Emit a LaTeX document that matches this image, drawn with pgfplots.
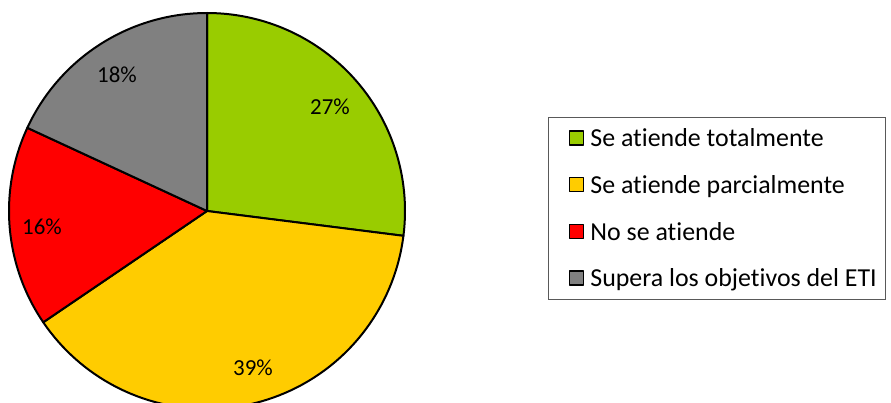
\documentclass[border=0pt]{standalone}
\usepackage{pgfplots}
\pgfplotsset{compat=1.18}
\usepackage{pgfplotstable}
\usepackage{fontspec}
\setmainfont{Carlito}[Ligatures=NoCommon]

\definecolor{cGreen}{HTML}{99CC00}
\definecolor{cYellow}{HTML}{FFCC00}
\definecolor{cRed}{HTML}{FF0000}
\definecolor{cGray}{HTML}{808080}

% share of each answer, clockwise from 12 o'clock
\pgfplotstableread{
pct
27.0
38.5
16.4
18.1
}\piedata

\def\angA{90}
\pgfplotstablegetelem{0}{pct}\of\piedata \pgfmathsetmacro\angB{\angA-3.6*\pgfplotsretval}
\pgfplotstablegetelem{1}{pct}\of\piedata \pgfmathsetmacro\angC{\angB-3.6*\pgfplotsretval}
\pgfplotstablegetelem{2}{pct}\of\piedata \pgfmathsetmacro\angD{\angC-3.6*\pgfplotsretval}
\pgfplotstablegetelem{3}{pct}\of\piedata \pgfmathsetmacro\angE{\angD-3.6*\pgfplotsretval}

\begin{document}
\begin{tikzpicture}
\begin{axis}[
    width=891bp, height=403bp, scale only axis,
    xmin=0, xmax=891, ymin=0, ymax=403,
    hide axis, clip=true,
    legend style={
        at={(axis cs:548,286)}, anchor=north west,
        draw=black!65, line width=0.8pt,
        font=\fontsize{26}{30}\selectfont,
        inner xsep=9bp, inner ysep=8.5bp,
        row sep=21.7bp, column sep=0bp,
        nodes={inner sep=0pt, text height=21bp, text depth=4bp},
        cells={anchor=west},
    },
    legend cell align=left,
    legend image code/.code={
        \path (0bp,0bp);
        \draw[#1, line width=1.4pt] (11bp,-6.5bp) rectangle (25bp,7.5bp);
        \path (31bp,0bp);
    },
    every axis plot/.append style={draw=black, line width=2bp, line join=round},
]
\addplot[fill=cGreen, domain=\angA:\angB, samples=80, variable=\t]
    ({207+198*cos(t)},{192+198*sin(t)}) -- (207,192) -- cycle;
\addlegendentry{Se atiende totalmente}
\addplot[fill=cYellow, domain=\angB:\angC, samples=80, variable=\t]
    ({207+198*cos(t)},{192+198*sin(t)}) -- (207,192) -- cycle;
\addlegendentry{Se atiende parcialmente}
\addplot[fill=cRed, domain=\angC:\angD, samples=60, variable=\t]
    ({207+198*cos(t)},{192+198*sin(t)}) -- (207,192) -- cycle;
\addlegendentry{No se atiende}
\addplot[fill=cGray, domain=\angD:\angE, samples=60, variable=\t]
    ({207+198*cos(t)},{192+198*sin(t)}) -- (207,192) -- cycle;
\addlegendentry{Supera los objetivos del ETI}

\begin{scope}[font=\fontsize{23}{27}\selectfont]
\node at (axis cs:330,296) {27\%};
\node at (axis cs:253,35) {39\%};
\node at (axis cs:42,176) {16\%};
\node at (axis cs:117,328) {18\%};
\end{scope}
\end{axis}
\path (current axis.south west) rectangle (current axis.north east);
\end{tikzpicture}
\end{document}
